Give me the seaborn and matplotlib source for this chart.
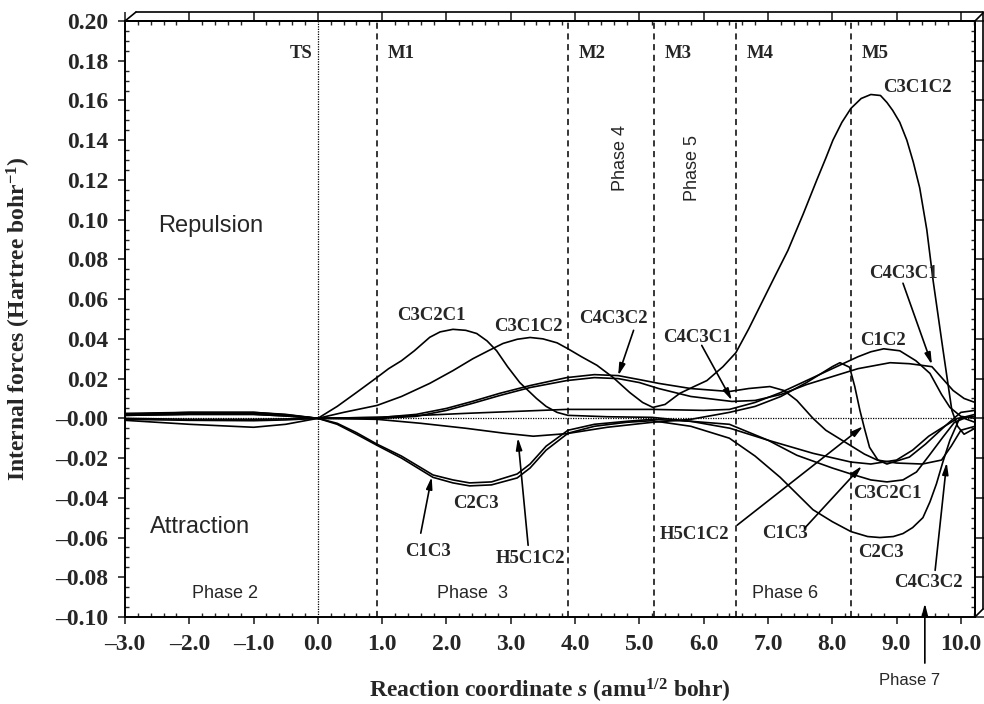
import matplotlib
matplotlib.use('Agg')
import numpy as np
import pandas as pd
import matplotlib.pyplot as plt
import seaborn as sns
from matplotlib.lines import Line2D
from matplotlib.ticker import MultipleLocator, FuncFormatter

# internal force curves: s (amu^1/2 bohr), force (Hartree/bohr)
s_c3c2c1 = [-3, -2, -1, -0.5, 0, 0.3, 0.6, 0.92, 1.1, 1.3, 1.5, 1.74, 1.9, 2.1, 2.3, 2.47, 2.63, 2.78, 2.95,
            3.14, 3.4, 3.55, 3.72, 3.89, 4.5, 5.2, 5.8, 6.41, 7.0, 7.45, 8.0, 8.29, 8.6, 8.85, 9.1, 9.31,
            9.5, 9.72, 9.9, 10.05, 10.22]
f_c3c2c1 = [0.0025, 0.003, 0.003, 0.002, 0.0, 0.006, 0.013, 0.0206, 0.025, 0.029, 0.034, 0.0408, 0.0435,
            0.0448, 0.0443, 0.0427, 0.039, 0.034, 0.026, 0.018, 0.010, 0.006, 0.003, 0.0015, 0.0008,
            0.0005, -0.0015, -0.005, -0.011, -0.0186, -0.025, -0.028, -0.031, -0.032, -0.031, -0.027,
            -0.019, -0.0095, -0.002, 0.0, -0.002]

s_c3c1c2 = [-3, -2, -1, -0.5, 0, 0.4, 0.92, 1.3, 1.74, 2.1, 2.41, 2.65, 2.88, 3.1, 3.3, 3.5, 3.72, 3.89,
            4.1, 4.34, 4.59, 4.85, 5.05, 5.21, 5.4, 5.63, 5.85, 6.05, 6.3, 6.5, 6.7, 6.9, 7.1, 7.31, 7.55,
            7.76, 7.9, 8.01, 8.15, 8.29, 8.45, 8.6, 8.75, 8.85, 8.94, 9.05, 9.16, 9.26, 9.36, 9.47, 9.57,
            9.72, 9.86, 9.95, 10.05, 10.22]
f_c3c1c2 = [0.002, 0.003, 0.003, 0.0018, 0.0, 0.003, 0.0065, 0.011, 0.0176, 0.024, 0.030, 0.034, 0.0377,
            0.0398, 0.0407, 0.040, 0.038, 0.035, 0.031, 0.0267, 0.0206, 0.013, 0.008, 0.0055, 0.007,
            0.0126, 0.016, 0.019, 0.026, 0.033, 0.045, 0.058, 0.071, 0.0845, 0.103, 0.12, 0.131, 0.14,
            0.149, 0.156, 0.161, 0.163, 0.1625, 0.159, 0.155, 0.149, 0.14, 0.129, 0.116, 0.095, 0.069,
            0.035, 0.004, -0.004, -0.008, -0.005]

s_c4c3c2 = [-3, -2, -1, -0.5, 0, 1.0, 1.53, 2.0, 2.4, 2.83, 3.3, 3.87, 4.3, 4.67, 5.0, 5.3, 5.8, 6.4, 6.7,
            7.03, 7.25, 7.45, 7.7, 7.9, 8.23, 8.5, 8.7, 9.0, 9.4, 9.7, 9.85, 10.0, 10.22]
f_c4c3c2 = [0.002, 0.0025, 0.0025, 0.0015, 0.0, 0.0005, 0.002, 0.005, 0.0085, 0.0126, 0.0165, 0.0205, 0.022,
            0.0215, 0.0195, 0.0176, 0.015, 0.0135, 0.015, 0.016, 0.014, 0.009, 0.0, -0.006, -0.0126, -0.018,
            -0.021, -0.0225, -0.023, -0.021, -0.014, -0.006, -0.004]

s_c4c3c1 = [-3, -2, -1, -0.5, 0, 1.0, 1.53, 2.0, 2.4, 2.83, 3.3, 3.87, 4.3, 4.67, 5.0, 5.3, 5.8, 6.44, 6.8,
            7.2, 7.6, 8.0, 8.4, 8.9, 9.2, 9.55, 9.88, 10.05, 10.22]
f_c4c3c1 = [0.0015, 0.002, 0.002, 0.0012, 0.0, 0.0, 0.001, 0.004, 0.0075, 0.0115, 0.0155, 0.019, 0.0205,
            0.020, 0.018, 0.015, 0.011, 0.0085, 0.009, 0.012, 0.017, 0.021, 0.025, 0.028, 0.0275, 0.026,
            0.014, 0.010, 0.008]

s_c1c2 = [-3, -2, -1, -0.5, 0, 0.92, 2.3, 3.87, 5.2, 6.0, 6.4, 6.8, 7.2, 7.6, 8.0, 8.4, 8.6, 8.8, 9.05,
          9.3, 9.52, 9.7, 9.83, 10.0, 10.22]
f_c1c2 = [0.0015, 0.002, 0.002, 0.0012, 0.0, 0.0005, 0.0025, 0.0045, 0.0045, 0.004, 0.0045, 0.008, 0.013,
          0.019, 0.025, 0.031, 0.0335, 0.035, 0.034, 0.029, 0.0226, 0.012, 0.0055, 0.001, 0.0]

s_c2c3 = [-3, -2, -1, -0.5, 0, 0.3, 0.6, 0.92, 1.3, 1.79, 2.1, 2.36, 2.7, 3.1, 3.3, 3.55, 3.89, 4.3, 4.8,
          5.2, 5.8, 6.4, 6.8, 7.19, 7.45, 7.7, 8.0, 8.29, 8.55, 8.74, 8.95, 9.1, 9.25, 9.41, 9.52, 9.62,
          9.72, 9.83, 9.98, 10.22]
f_c2c3 = [-0.0005, -0.001, -0.0012, -0.0008, 0.0, -0.003, -0.008, -0.0136, -0.020, -0.0297, -0.0325, -0.034,
          -0.0335, -0.030, -0.025, -0.016, -0.0075, -0.004, -0.002, -0.0012, -0.004, -0.010, -0.019,
          -0.0297, -0.038, -0.046, -0.052, -0.057, -0.0595, -0.060, -0.0595, -0.058, -0.055, -0.050,
          -0.042, -0.033, -0.022, -0.011, 0.0, 0.002]

s_c1c3 = [-3, -2, -1, -0.5, 0, 0.3, 0.6, 0.92, 1.3, 1.79, 2.1, 2.36, 2.7, 3.1, 3.3, 3.55, 3.89, 4.3, 4.8,
          5.2, 5.8, 6.4, 7.0, 7.7, 8.29, 8.6, 9.0, 9.25, 9.5, 9.72, 9.95, 10.22]
f_c1c3 = [0.0, -0.0005, -0.0005, -0.0003, 0.0, -0.0025, -0.0072, -0.013, -0.019, -0.0285, -0.031, -0.0325,
          -0.032, -0.028, -0.023, -0.014, -0.006, -0.003, -0.0015, -0.0005, -0.0015, -0.003, -0.011,
          -0.0176, -0.022, -0.023, -0.021, -0.016, -0.009, -0.0045, 0.0, 0.001]

s_h5c1c2 = [-3, -2, -1, -0.5, 0, 0.92, 1.6, 2.3, 2.9, 3.35, 3.87, 4.5, 5.2, 5.8, 6.4, 6.8, 7.2, 7.6, 7.9,
            8.0, 8.12, 8.27, 8.35, 8.43, 8.5, 8.58, 8.71, 8.85, 9.2, 9.45, 9.75, 10.0, 10.22]
f_h5c1c2 = [-0.001, -0.003, -0.0045, -0.003, 0.0, -0.0005, -0.0025, -0.005, -0.0075, -0.009, -0.0077,
            -0.0045, -0.002, -0.0005, 0.003, 0.006, 0.011, 0.018, 0.024, 0.026, 0.028, 0.0257, 0.016,
            0.004, -0.005, -0.0146, -0.021, -0.023, -0.0195, -0.013, -0.004, 0.003, 0.004]

# stationary points along the path
marker_names = ['M1', 'M2', 'M3', 'M4', 'M5']
marker_s = [0.92, 3.89, 5.22, 6.50, 8.29]

curves = {
    'C3C2C1': (s_c3c2c1, f_c3c2c1), 'C3C1C2': (s_c3c1c2, f_c3c1c2),
    'C4C3C2': (s_c4c3c2, f_c4c3c2), 'C4C3C1': (s_c4c3c1, f_c4c3c1),
    'C1C2': (s_c1c2, f_c1c2), 'C2C3': (s_c2c3, f_c2c3),
    'C1C3': (s_c1c3, f_c1c3), 'H5C1C2': (s_h5c1c2, f_h5c1c2),
}
df = pd.concat([pd.DataFrame({'s': s, 'force': f, 'bond': name})
                for name, (s, f) in curves.items()], ignore_index=True)

sns.set_style('ticks')
plt.rcParams['font.family'] = ['Liberation Serif', 'DejaVu Serif']
plt.rcParams['font.weight'] = 'bold'
plt.rcParams['mathtext.fontset'] = 'custom'
plt.rcParams['mathtext.rm'] = 'Liberation Serif:bold'
plt.rcParams['mathtext.bf'] = 'Liberation Serif:bold'
plt.rcParams['mathtext.it'] = 'Liberation Serif:italic:bold'

W, H = 984, 704
fig = plt.figure(figsize=(W / 100, H / 100), dpi=100)
ax = fig.add_axes([125 / W, 87 / H, 850 / W, 596 / H])

sns.lineplot(data=df, x='s', y='force', hue='bond', units='bond', estimator=None, sort=False,
             palette=['black'] * len(curves), legend=False, linewidth=1.2, ax=ax)
for ln in ax.get_lines():
    ln.set_solid_joinstyle('round')

ax.set_xlim(-3, 10.22)
ax.set_ylim(-0.10, 0.20)

ax.axhline(0, color='black', lw=0.9, ls=(0, (1, 1)), zorder=1)
ax.axvline(0, color='black', lw=0.9, ls=(0, (1, 1)), zorder=1)
for xm in marker_s:
    ax.axvline(xm, color='black', lw=1.1, ls=(0, (4, 3)), zorder=1)

lab_kw = dict(fontsize=13.5, fontweight='bold', ha='center', va='center')
ax.text(-0.08, 0.1836, 'TS', fontsize=13.5, fontweight='bold', ha='right', va='center')
for name, xm in zip(marker_names, marker_s):
    ax.text(xm + 0.17, 0.1836, name, fontsize=13.5, fontweight='bold', ha='left', va='center')

sans = dict(family=['Liberation Sans', 'DejaVu Sans'], fontweight='normal', ha='center', va='center')
ax.text(-1.66, 0.0966, 'Repulsion', fontsize=17, **sans)
ax.text(-1.84, -0.0548, 'Attraction', fontsize=17, **sans)
ax.text(-1.45, -0.088, 'Phase 2', fontsize=13, **sans)
ax.text(2.4, -0.088, 'Phase  3', fontsize=13, **sans)
ax.text(7.26, -0.088, 'Phase 6', fontsize=13, **sans)
ax.text(4.7, 0.131, 'Phase 4', fontsize=13, rotation=90, **sans)
ax.text(5.83, 0.126, 'Phase 5', fontsize=13, rotation=90, **sans)

# curve labels (text position, arrow tail, arrow tip)
labels = [
    ('C3C2C1', (1.77, 0.0518), None, None),
    ('C3C1C2', (3.27, 0.0463), None, None),
    ('C4C3C2', (4.6, 0.0503), (4.91, 0.0443), (4.67, 0.0215)),
    ('C2C3', (2.46, -0.0428), None, None),
    ('C1C3', (1.71, -0.0669), (1.60, -0.0578), (1.77, -0.0295)),
    ('H5C1C2', (3.3, -0.0704), (3.27, -0.0639), (3.11, -0.0098)),
    ('C4C3C1', (5.91, 0.0407), (5.97, 0.0367), (6.44, 0.0090)),
    ('C3C1C2', (9.33, 0.1665), None, None),
    ('C4C3C1', (9.1, 0.0730), (9.10, 0.0680), (9.55, 0.0270)),
    ('C1C2', (8.79, 0.0392), None, None),
    ('C3C2C1', (8.86, -0.0380), None, None),
    ('H5C1C2', (5.85, -0.0583), (6.52, -0.0538), (8.48, -0.0040)),
    ('C1C3', (7.26, -0.0580), (7.57, -0.0553), (8.46, -0.0240)),
    ('C2C3', (8.76, -0.0674), None, None),
    ('C4C3C2', (9.5, -0.0825), (9.60, -0.0765), (9.78, -0.0222)),
]
arrow = dict(arrowstyle='-|>,head_length=0.7,head_width=0.18', color='black', lw=1.2,
             shrinkA=0, shrinkB=0)
for text, pos, tail, tip in labels:
    ax.text(pos[0], pos[1], text, **lab_kw)
    if tip is not None:
        ax.annotate('', xy=tip, xytext=tail, arrowprops=arrow)

ax.annotate('', xy=(9.44, -0.0931), xytext=(9.44, -0.1232), arrowprops=arrow, annotation_clip=False)
ax.text(9.21, -0.1318, 'Phase 7', fontsize=12, clip_on=False, **sans)

# ticks
ax.xaxis.set_major_locator(MultipleLocator(1.0))
ax.xaxis.set_minor_locator(MultipleLocator(0.2))
ax.yaxis.set_major_locator(MultipleLocator(0.02))
ax.yaxis.set_minor_locator(MultipleLocator(0.005))
ax.xaxis.set_major_formatter(FuncFormatter(lambda v, p: f'{v:.1f}'.replace('-', '\u2013')))
ax.yaxis.set_major_formatter(FuncFormatter(lambda v, p: f'{v:.2f}'.replace('-', '\u2013')))
ax.tick_params(which='major', direction='out', length=5, width=1.2, pad=7, labelsize=17,
               top=False, right=False)
ax.tick_params(which='minor', direction='in', length=3, width=1.0, top=True, right=True)
for lab in ax.get_xticklabels() + ax.get_yticklabels():
    lab.set_fontweight('bold')

sec_x = ax.secondary_xaxis('top')
sec_x.xaxis.set_major_locator(MultipleLocator(1.0))
sec_x.tick_params(which='major', direction='out', length=6.5, width=1.2, labeltop=False)
sec_x.tick_params(which='minor', length=0)
sec_y = ax.secondary_yaxis('right')
sec_y.yaxis.set_major_locator(MultipleLocator(0.02))
sec_y.tick_params(which='major', direction='out', length=6.5, width=1.2, labelright=False)
sec_y.tick_params(which='minor', length=0)

for sp in list(ax.spines.values()) + [sec_x.spines['top'], sec_y.spines['right']]:
    sp.set_linewidth(1.4)
    sp.set_color('black')

ax.set_xlabel('Reaction coordinate $s$ (amu$^{1/2}$ bohr)', fontsize=17, fontweight='bold')
ax.set_ylabel('Internal forces (Hartree bohr$^{\\mathbf{-1}}$)', fontsize=17, fontweight='bold')
ax.xaxis.set_label_coords(0.5, -0.100)
ax.yaxis.set_label_coords(-0.108, 0.5)

# 3-D style outer frame
def px_line(x0, y0, x1, y1):
    fig.add_artist(Line2D([x0 / W, x1 / W], [1 - y0 / H, 1 - y1 / H], color='black', lw=1.2))

px_line(125, 21, 136, 12)
px_line(136, 12, 983, 12)
px_line(975, 21, 983, 13)
px_line(983, 12, 983, 609)
px_line(975, 617, 983, 609)

fig.savefig('out.png', dpi=100)
